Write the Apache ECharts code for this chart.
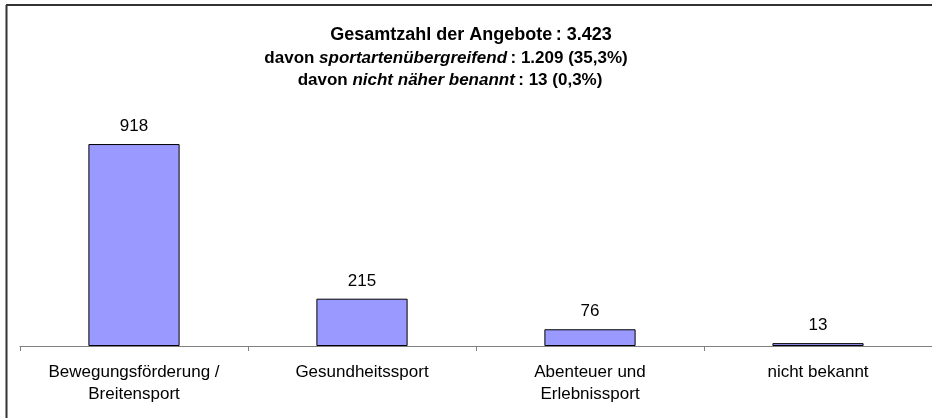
<!DOCTYPE html>
<html>
<head>
<meta charset="utf-8">
<script src="https://cdn.jsdelivr.net/npm/echarts@6/dist/echarts.min.js"></script>
<style>html,body{margin:0;padding:0;background:#fff}#c{width:932px;height:418px}</style>
</head>
<body>
<div id="c"></div>
<script>
var categories = ['Bewegungsförderung /\nBreitensport', 'Gesundheitssport', 'Abenteuer und\nErlebnissport', 'nicht bekannt'];
var values = [918, 215, 76, 13];
var yMax = 1000;
var titleLines = [
  '{b|Gesamtzahl der Angebote\u2009: 3.423}',
  '{b|davon }{i|sportartenübergreifend}{b|\u2009: 1.209 (35,3%)}',
  '{b|davon }{i|nicht näher benannt}{b|\u2009: 13 (0,3%)}'
];

var chart = echarts.init(document.getElementById('c'), null, {renderer: 'canvas'});
var F = 'Arial, "Liberation Sans", sans-serif';
function richFor(size) {
  return {
    b: {fontFamily: F, fontSize: size, fontWeight: 'bold', fill: '#000', color: '#000'},
    i: {fontFamily: F, fontSize: size, fontWeight: 'bold', fontStyle: 'italic', fill: '#000', color: '#000'}
  };
}
var titleX = [471, 446, 450];
var titleY = [35, 58, 80];
var titleSize = [18, 17, 17];
var titleGraphics = titleLines.map(function (t, k) {
  return {
    type: 'text', x: titleX[k], y: titleY[k],
    style: {text: t, align: 'center', verticalAlign: 'middle', rich: richFor(titleSize[k]), font: 'bold ' + titleSize[k] + 'px ' + F, fill: '#000'}
  };
});

chart.setOption({
  animation: false,
  backgroundColor: '#ffffff',
  grid: {left: 20, right: 0, top: 126, bottom: 72, containLabel: false},
  xAxis: {
    type: 'category',
    data: categories,
    boundaryGap: true,
    axisLine: {lineStyle: {color: '#808080', width: 1}},
    axisTick: {show: true, length: 5, lineStyle: {color: '#808080'}},
    axisLabel: {fontFamily: F, fontSize: 17, color: '#000', margin: 15, lineHeight: 22, interval: 0}
  },
  yAxis: {
    type: 'value', min: 0, max: yMax, show: false,
    splitLine: {show: false}
  },
  series: [{
    type: 'bar',
    data: values,
    barWidth: '40%',
    itemStyle: {color: '#9999FF', borderColor: '#000', borderWidth: 1},
    label: {show: true, position: 'top', distance: 9, fontFamily: F, fontSize: 17, color: '#000'}
  }],
  graphic: [
    {type: 'line', shape: {x1: 6, y1: 5, x2: 932, y2: 5}, style: {stroke: '#333', lineWidth: 2}},
    {type: 'line', shape: {x1: 6.5, y1: 5, x2: 6.5, y2: 418}, style: {stroke: '#333', lineWidth: 2}}
  ].concat(titleGraphics)
});
</script>
</body>
</html>
